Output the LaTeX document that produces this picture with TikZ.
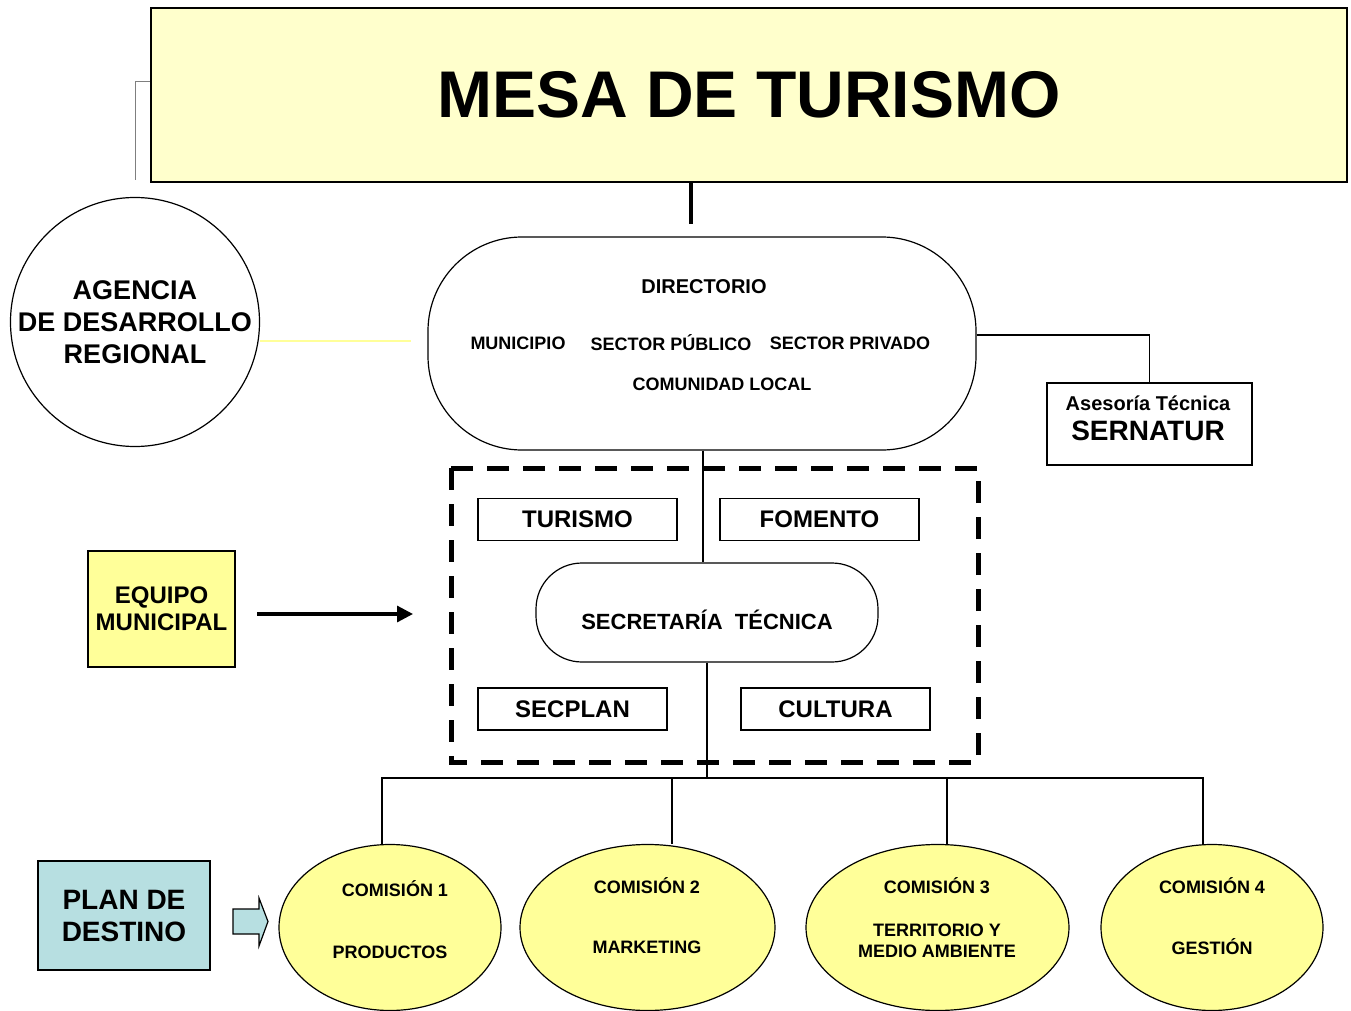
\documentclass[tikz,border=0pt]{standalone}
\usepackage{fontspec}
\setmainfont{Liberation Sans}
\usepackage{tikz}
\usetikzlibrary{shapes.geometric,arrows.meta}
\definecolor{mesa}{HTML}{FFFFCC}
\definecolor{amarillo}{HTML}{FFFF99}
\definecolor{plan}{HTML}{B7DFE1}
\definecolor{gris}{HTML}{7F7F7F}
\tikzset{
  caja/.style={draw,line width=.6pt,inner sep=0pt,font=\bfseries},
  comision/.style={draw,ellipse,fill=amarillo,line width=.6pt,inner sep=0pt},
  rotulo/.style={font=\bfseries\fontsize{9}{11}\selectfont}
}

\begin{document}
\begin{tikzpicture}[x=.5pt,y=-.5pt]
\useasboundingbox (0,0) rectangle (1351,1011);
\node[caja,fill=mesa,minimum width=598pt,minimum height=87pt,font=\bfseries\fontsize{33}{36}\selectfont] (mesa) at (749,95) {MESA DE TURISMO};
\node[draw,circle,line width=.6pt,minimum size=124.5pt,inner sep=0pt,align=center,font=\bfseries\fontsize{13.5}{16}\selectfont] (agencia) at (135,322) {AGENCIA\\DE DESARROLLO\\REGIONAL};
\node[caja,rounded corners=47pt,minimum width=274pt,minimum height=106.5pt] (dir) at (702,343.5) {};
\node[font=\bfseries\fontsize{10}{12}\selectfont] (dtit) at (704,287) {DIRECTORIO};
\node[rotulo] (muni) at (518,343) {MUNICIPIO};
\node[rotulo] (spub) at (671,343) {SECTOR PÚBLICO};
\node[rotulo] (spriv) at (850,343) {SECTOR PRIVADO};
\node[rotulo] (comu) at (722,384) {COMUNIDAD LOCAL};
\node[caja,minimum width=102.5pt,minimum height=41pt] (ser) at (1149.5,424) {};
\node[font=\bfseries\fontsize{10}{12}\selectfont] (sera) at (1148,403) {Asesoría Técnica};
\node[font=\bfseries\fontsize{14}{15}\selectfont] (serb) at (1148,431) {SERNATUR};
\draw[line width=2.5pt,dash pattern=on 11pt off 7pt] (451,468) rectangle (978,762);
\node[caja,minimum width=99.5pt,minimum height=21pt,font=\bfseries\fontsize{12}{14}\selectfont] (tur) at (577.5,519.5) {TURISMO};
\node[caja,minimum width=99.5pt,minimum height=21pt,font=\bfseries\fontsize{12}{14}\selectfont] (fom) at (819.5,519.5) {FOMENTO};
\node[caja,rounded corners=23pt,minimum width=171pt,minimum height=49.5pt] (sec) at (707,612.5) {};
\node[font=\bfseries\fontsize{11}{13}\selectfont] (sect) at (707,620) {SECRETARÍA\ \ TÉCNICA};
\node[caja,minimum width=94.5pt,minimum height=21pt,font=\bfseries\fontsize{12}{14}\selectfont] (secp) at (572.5,709) {SECPLAN};
\node[caja,minimum width=94.5pt,minimum height=21pt,font=\bfseries\fontsize{12}{14}\selectfont] (cul) at (835.5,709) {CULTURA};
\node[caja,fill=amarillo,minimum width=73.5pt,minimum height=58pt,align=center,font=\bfseries\fontsize{12}{13.5}\selectfont] (eq) at (161.5,609) {EQUIPO\\MUNICIPAL};
\node[caja,fill=plan,minimum width=86pt,minimum height=54.5pt,align=center,font=\bfseries\fontsize{14}{16}\selectfont] (pd) at (124,915.5) {PLAN DE\\DESTINO};
\node[comision,minimum width=111pt,minimum height=83pt] (c1) at (390,927.5) {};
\node[comision,minimum width=127.5pt,minimum height=83pt] (c2) at (647.5,927.5) {};
\node[comision,minimum width=131.5pt,minimum height=83pt] (c3) at (937.5,927.5) {};
\node[comision,minimum width=111pt,minimum height=83pt] (c4) at (1212,927.5) {};
\node[rotulo] (c1a) at (395,889) {COMISIÓN 1};
\node[rotulo] (c1b) at (390,952) {PRODUCTOS};
\node[rotulo] (c2a) at (647,886) {COMISIÓN 2};
\node[rotulo] (c2b) at (647,947) {MARKETING};
\node[rotulo] (c3a) at (937,886) {COMISIÓN 3};
\node[rotulo,align=center,font=\bfseries\fontsize{9}{10.5}\selectfont] (c3b) at (937,941) {TERRITORIO Y\\MEDIO AMBIENTE};
\node[rotulo] (c4a) at (1212,886) {COMISIÓN 4};
\node[rotulo] (c4b) at (1212,947) {GESTIÓN};
% conectores
\coordinate (t1) at (691,224);
\coordinate (ag) at (135,82);
\coordinate (amar) at (411,341);
\coordinate (eqtip) at (413,614);
\coordinate (bus) at (707,778);
\draw[line width=2pt] (t1 |- mesa.south) -- (t1);
\draw[gris,line width=.5pt] (agencia.north |- 0,180) -- (ag) -- (ag -| mesa.west);
\draw[amarillo,line width=.7pt] (agencia.east |- amar) -- (amar);
\draw[line width=.6pt] (dir.east |- 0,335) -| (ser.north);
\draw[line width=.6pt] (dir.south -| 703,0) -- (sec.north -| 703,0);
\draw[line width=.6pt] (sec.south) -- (bus);
\draw[line width=.6pt] (c1.north -| 382,0) |- (bus) -| (c4.north -| 1203,0);
\draw[line width=.6pt] (c2.north -| 672,0) -- (bus -| 672,0);
\draw[line width=.6pt] (c3.north -| 947,0) -- (bus -| 947,0);
\draw[line width=1.6pt,-{Triangle[length=8pt,width=8pt]}] (eqtip -| 257,0) -- (eqtip);
\draw[fill=plan,line width=.6pt] (233,909) -- (259,909) -- (259,898) -- (268,921.5) -- (259,946) -- (259,934) -- (233,934) -- cycle;
\end{tikzpicture}
\end{document}
